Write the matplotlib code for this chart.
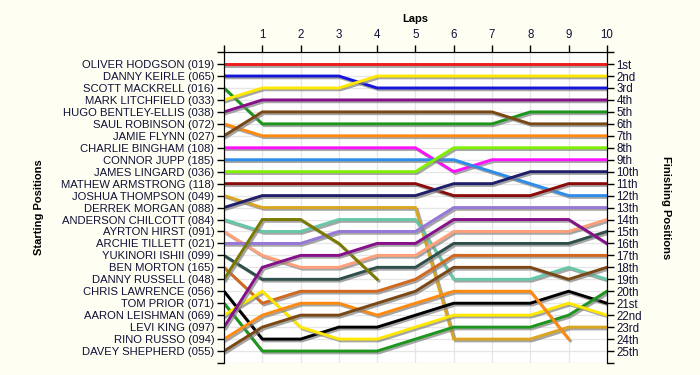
import matplotlib
matplotlib.use('Agg')
import matplotlib.pyplot as plt
import matplotlib.patheffects as pe
import numpy as np

plt.rcParams['font.family'] = ['Liberation Sans', 'DejaVu Sans']

laps = list(range(0, 11))
drivers = ['OLIVER HODGSON (019)', 'DANNY KEIRLE (065)', 'SCOTT MACKRELL (016)',
           'MARK LITCHFIELD (033)', 'HUGO BENTLEY-ELLIS (038)', 'SAUL ROBINSON (072)',
           'JAMIE FLYNN (027)', 'CHARLIE BINGHAM (108)', 'CONNOR JUPP (185)',
           'JAMES LINGARD (036)', 'MATHEW ARMSTRONG (118)', 'JOSHUA THOMPSON (049)',
           'DERREK MORGAN (088)', 'ANDERSON CHILCOTT (084)', 'AYRTON HIRST (091)',
           'ARCHIE TILLETT (021)', 'YUKINORI ISHII (099)', 'BEN MORTON (165)',
           'DANNY RUSSELL (048)', 'CHRIS LAWRENCE (056)', 'TOM PRIOR (071)',
           'AARON LEISHMAN (069)', 'LEVI KING (097)', 'RINO RUSSO (094)',
           'DAVEY SHEPHERD (055)']

# position at the end of each lap (lap 0 = grid), None = retired
positions = [
    [1, 1, 1, 1, 1, 1, 1, 1, 1, 1, 1],
    [2, 2, 2, 2, 3, 3, 3, 3, 3, 3, 3],
    [3, 6, 6, 6, 6, 6, 6, 6, 5, 5, 5],
    [4, 3, 3, 3, 2, 2, 2, 2, 2, 2, 2],
    [5, 4, 4, 4, 4, 4, 4, 4, 4, 4, 4],
    [6, 7, 7, 7, 7, 7, 7, 7, 7, 7, 7],
    [7, 5, 5, 5, 5, 5, 5, 5, 6, 6, 6],
    [8, 8, 8, 8, 8, 8, 10, 9, 9, 9, 9],
    [9, 9, 9, 9, 9, 9, 9, 10, 11, 12, 12],
    [10, 10, 10, 10, 10, 10, 8, 8, 8, 8, 8],
    [11, 11, 11, 11, 11, 11, 12, 12, 12, 11, 11],
    [12, 13, 13, 13, 13, 13, 24, 24, 24, 23, 23],
    [13, 12, 12, 12, 12, 12, 11, 11, 10, 10, 10],
    [14, 15, 15, 14, 14, 14, 19, 19, 19, 18, 19],
    [15, 17, 18, 18, 17, 17, 15, 15, 15, 15, 14],
    [16, 16, 16, 15, 15, 15, 13, 13, 13, 13, 13],
    [17, 19, 19, 19, 18, 18, 16, 16, 16, 16, 15],
    [18, 21, 20, 20, 20, 19, 17, 17, 17, 17, 17],
    [19, 14, 14, 16, 19, None, None, None, None, None, None],
    [20, 24, 24, 23, 23, 22, 21, 21, 21, 20, 21],
    [21, 25, 25, 25, 25, 24, 23, 23, 23, 22, 20],
    [22, 20, 23, 24, 24, 23, 22, 22, 22, 21, 22],
    [23, 18, 17, 17, 16, 16, 14, 14, 14, 14, 16],
    [24, 22, 21, 21, 22, 21, 20, 20, 20, 24, None],
    [25, 23, 22, 22, 21, 20, 18, 18, 18, 19, 18],
]

colors = ['#EE1C1C', '#1515D8', '#1C961C', '#FFE800', '#86108A', '#FF8A10',
          '#7A4814', '#FF10FF', '#2E8CEB', '#80F000', '#8B0A0A', '#DAA520',
          '#1E1E6A', '#66C8A8', '#FFA07A', '#9678D8', '#2F4F4A', '#D2691E',
          '#7A7A00', '#000000', '#1C961C', '#FFE800', '#86108A', '#FF8A10',
          '#7A4814']

ordinals = ['1st', '2nd', '3rd'] + [f'{n}th' for n in range(4, 21)] + \
           ['21st', '22nd', '23rd', '24th', '25th']

text_col = '#101038'
bg = '#FEFEF2'

fig = plt.figure(figsize=(7, 3.75), dpi=100, facecolor=bg)
ax = fig.add_axes([0.320, 0.032, 0.547, 0.829])
ax.set_facecolor('white')

shadow = [pe.SimpleLineShadow(offset=(1.3, -1.3), shadow_color='#808080', alpha=0.7),
          pe.Normal()]

for pos, col in zip(positions, colors):
    x = [l for l, p in zip(laps, pos) if p is not None]
    y = [p for p in pos if p is not None]
    ax.plot(x, y, color=col, lw=2.1, solid_joinstyle='miter', path_effects=shadow, zorder=3)

n = len(drivers)
ax.set_xlim(0, 10)
ax.set_ylim(n + 1, 0)

ax.xaxis.tick_top()
ax.set_xticks(laps)
ax.set_xticklabels([''] + [str(l) for l in laps[1:]], fontsize=8.3, color=text_col)
ax.set_xlabel('Laps', fontsize=8, fontweight='bold', color='black', labelpad=5)
ax.xaxis.set_label_position('top')

ax.set_yticks(range(0, n + 2))
ax.set_yticklabels([''] + drivers + [''], fontsize=8.1, color=text_col)
ax.set_ylabel('Starting Positions', fontsize=8, fontweight='bold', color='black', labelpad=12)

ax2 = ax.twinx()
ax2.set_ylim(n + 1, 0)
ax2.set_yticks(range(0, n + 2))
ax2.set_yticklabels([''] + ordinals + [''], fontsize=8.3, color=text_col)
ax2.set_ylabel('Finishing Positions', fontsize=8, fontweight='bold', color='black',
               rotation=270, labelpad=21)

for a in (ax, ax2):
    a.spines['bottom'].set_visible(False)
    a.tick_params(length=5, width=1, pad=2)
ax.tick_params(axis='x', length=5, pad=3)

ax.set_axisbelow(True)
ax.grid(True, color='#E6E6E6', lw=0.9)

fig.savefig('out.png', dpi=100, facecolor=bg)
